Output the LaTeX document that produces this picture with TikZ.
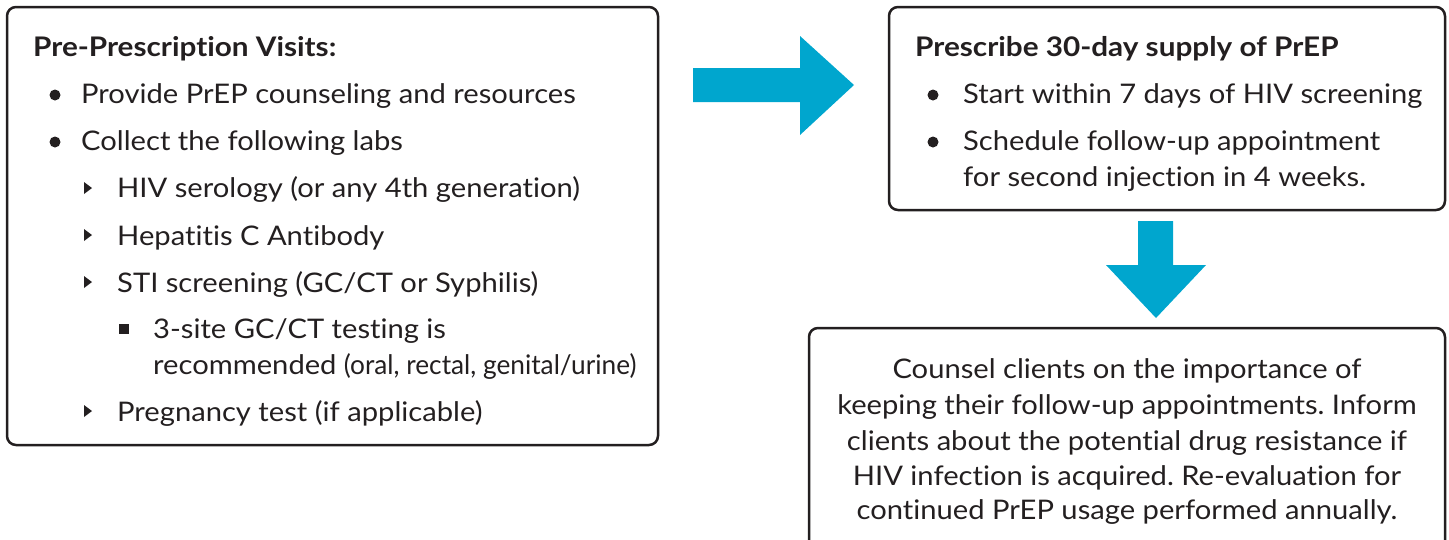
\documentclass[tikz,border=0pt]{standalone}
\usepackage{fontspec}
\usepackage{graphicx}
\setmainfont{Lato}[FakeStretch=1.08, Ligatures={NoCommon}, BoldFeatures={FakeStretch=1.1}]
\definecolor{arrowblue}{RGB}{0,166,206}
\definecolor{ink}{RGB}{35,31,32}
\frenchspacing
\begin{document}
\begin{tikzpicture}[x=1pt,y=-1pt,
  box/.style={draw=ink, line width=2.5pt, rounded corners=9pt, inner sep=0pt, outer sep=0pt},
  txt/.style={anchor=base west, inner sep=0pt, font=\fontsize{27}{32}\selectfont, text=ink},
  ttl/.style={txt, font=\fontsize{27}{32}\selectfont\bfseries},
  ctxt/.style={anchor=base, inner sep=0pt, font=\fontsize{27}{32}\selectfont, text=ink},
  blockarrow/.style={fill=arrowblue, draw=none},
  dotbullet/.style={fill=ink, draw=none},
]
\useasboundingbox (0,0) rectangle (1449,539);
\clip (0,0) rectangle (1449,539);
% boxes
\node[box, minimum width=651pt, minimum height=438pt] (b1) at (332.5,226) {};
\node[box, minimum width=556pt, minimum height=203pt] (b2) at (1167,108.5) {};
\node[box, minimum width=636pt, minimum height=232pt] (b3) at (1127,444) {};
% arrows
\fill[blockarrow] (693,68) -- (800,68) -- (800,36) -- (854,85) -- (800,135) -- (800,102) -- (693,102) -- cycle;
\fill[blockarrow] (1138,221) -- (1173,221) -- (1173,265) -- (1206,265) -- (1156,318) -- (1106,265) -- (1138,265) -- cycle;
% box 1 text
\node[ttl] (t1) at (33,56) {Pre-Prescription Visits:};
\fill[dotbullet] (55,95) circle (5.5);
\node[txt] (l1) at (81,103) {Provide PrEP counseling and resources};
\fill[dotbullet] (55,142) circle (5.5);
\node[txt] (l2) at (81,150) {Collect the following labs};
\fill[dotbullet] (84,182) -- (92,188) -- (84,194) -- cycle;
\node[txt] (l3) at (117,197) {HIV serology (or any 4th generation)};
\fill[dotbullet] (84,229) -- (92,235) -- (84,241) -- cycle;
\node[txt] (l4) at (117,245) {Hepatitis C Antibody};
\fill[dotbullet] (84,276) -- (92,282) -- (84,288) -- cycle;
\node[txt] (l5) at (117,292) {STI screening (GC/CT or Syphilis)};
\fill[dotbullet] (119,324) rectangle (129,334);
\node[txt] (l6) at (153,338) {3-site GC/CT testing is};
\node[txt] (l7) at (153,374) {recommended \scalebox{0.9}[1]{(oral, rectal, genital/urine)}};
\fill[dotbullet] (84,405) -- (92,411) -- (84,417) -- cycle;
\node[txt] (l8) at (117,421) {Pregnancy test (if applicable)};
% box 2 text
\node[ttl] (t2) at (915,56) {Prescribe 30-day supply of PrEP};
\fill[dotbullet] (933,95) circle (5.5);
\node[txt] (r1) at (963,103) {Start within 7 days of HIV screening};
\fill[dotbullet] (933,142) circle (5.5);
\node[txt] (r2) at (963,150) {Schedule follow-up appointment};
\node[txt] (r3) at (963,186) {for second injection in 4 weeks.};
% box 3 text
\node[ctxt] (c1) at (1127,378) {Counsel clients on the importance of};
\node[ctxt] (c2) at (1127,414) {keeping their follow-up appointments. Inform};
\node[ctxt] (c3) at (1127,450) {clients about the potential drug resistance if};
\node[ctxt] (c4) at (1127,485) {HIV infection is acquired. Re-evaluation for};
\node[ctxt] (c5) at (1127,519) {continued PrEP usage performed annually.};
\end{tikzpicture}
\end{document}
